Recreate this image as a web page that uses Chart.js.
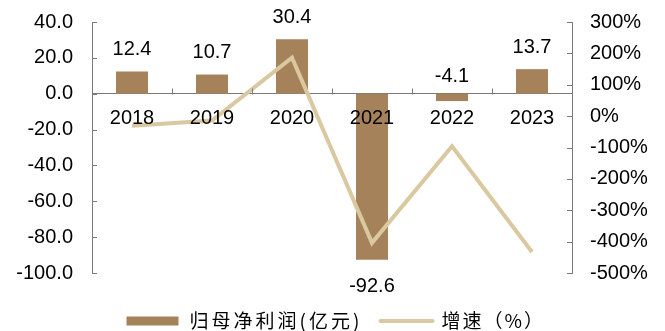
<!DOCTYPE html>
<html><head><meta charset="utf-8">
<script src="https://cdn.jsdelivr.net/npm/chart.js@4/dist/chart.umd.min.js"></script>
<style>html,body{margin:0;padding:0;background:#fff}#wrap{width:665px;height:331px}</style>
</head><body><div id="wrap"><canvas id="c" width="665" height="331"></canvas></div>
<script>
const categories = ['2018','2019','2020','2021','2022','2023'];
const profitValues = [12.4, 10.7, 30.4, -92.6, -4.1, 13.7];
const growthValues = [-31, -14, 186, -404, -96, -433];
const leftTicks = {min: -100, max: 40, step: 20};
const rightTicks = {min: -500, max: 300, step: 100};
const seriesNames = ['归母净利润(亿元)', '增速（%）'];

const BAR = '#a6825a';
const LINE = '#dac8a0';
const AXIS = '#7a7a7a';
const NUMFONT = '"Liberation Sans", Arial, sans-serif';
const NUMSIZE = 20;

const tickPlugin = {
  id: 'tickMarks',
  afterDraw(chart) {
    const ctx = chart.ctx;
    const y = chart.scales.y, y2 = chart.scales.y2, x = chart.scales.x;
    ctx.save();
    ctx.strokeStyle = AXIS; ctx.lineWidth = 1;
    ctx.beginPath();
    y.ticks.forEach(t => { const p = Math.round(y.getPixelForValue(t.value)) + 0.5; ctx.moveTo(y.right, p); ctx.lineTo(y.right + 5, p); });
    y2.ticks.forEach(t => { const p = Math.round(y2.getPixelForValue(t.value)) + 0.5; ctx.moveTo(y2.left, p); ctx.lineTo(y2.left - 5, p); });
    const y0 = Math.round(y.getPixelForValue(0)) + 0.5;
    for (let i = 0; i < categories.length - 1; i++) {
      const px = Math.round((x.getPixelForTick(i) + x.getPixelForTick(i + 1)) / 2) + 0.5;
      ctx.moveTo(px, y0); ctx.lineTo(px, y0 - 6);
    }
    ctx.stroke();
    ctx.restore();
  }
};

const labelPlugin = {
  id: 'barLabels',
  afterDatasetsDraw(chart) {
    const ctx = chart.ctx;
    const meta = chart.getDatasetMeta(1);
    ctx.save();
    ctx.font = NUMSIZE + 'px ' + NUMFONT;
    ctx.fillStyle = '#000';
    ctx.textAlign = 'center';
    ctx.textBaseline = 'middle';
    meta.data.forEach((bar, i) => {
      const v = profitValues[i];
      let ty;
      if (v >= 0) ty = bar.y - 22;
      else if (Math.abs(bar.y - bar.base) > 20) ty = bar.y + 27;
      else ty = bar.base - 17;
      ctx.fillText(v.toFixed(1), bar.x, ty);
    });
    ctx.restore();
  }
};

const legendPlugin = {
  id: 'customLegend',
  afterDraw(chart) {
    const ctx = chart.ctx;
    const cy = 321;
    const cx = chart.width / 2;
    ctx.save();
    ctx.font = '19px "Noto Sans CJK SC", sans-serif';
    ctx.textBaseline = 'middle';
    ctx.textAlign = 'left';
    ctx.fillStyle = BAR;
    ctx.fillRect(cx - 206, cy - 4.5, 52, 9);
    ctx.fillStyle = '#000';
    ctx.letterSpacing = '3px';
    ctx.fillText(seriesNames[0], cx - 143, cy);
    ctx.strokeStyle = LINE; ctx.lineWidth = 4; ctx.lineCap = 'round';
    ctx.beginPath(); ctx.moveTo(cx + 48, cy); ctx.lineTo(cx + 100, cy); ctx.stroke();
    ctx.letterSpacing = '2px';
    ctx.fillText(seriesNames[1], cx + 109, cy);
    ctx.restore();
  }
};

function noPad(s) { s.paddingTop = 0; s.paddingBottom = 0; }

new Chart(document.getElementById('c'), {
  data: {
    labels: categories,
    datasets: [
      { type: 'line', label: seriesNames[1], data: growthValues, yAxisID: 'y2', borderColor: LINE, backgroundColor: LINE, borderWidth: 4, pointRadius: 0, tension: 0, order: 0 },
      { type: 'bar', label: seriesNames[0], data: profitValues, yAxisID: 'y', backgroundColor: BAR, categoryPercentage: 1, barPercentage: 0.4, order: 1 }
    ]
  },
  options: {
    responsive: false,
    animation: false,
    devicePixelRatio: 1,
    layout: { padding: { left: 0, right: 0, top: 22, bottom: 58 } },
    plugins: { legend: { display: false }, tooltip: { enabled: false } },
    scales: {
      x: {
        position: { y: 0 },
        afterFit(s) { s.paddingLeft = 0; s.paddingRight = 0; },
        grid: { display: false, drawTicks: false, tickLength: 0 },
        border: { display: true, color: AXIS, width: 1 },
        ticks: { z: 1, color: '#000', font: { family: NUMFONT, size: NUMSIZE }, padding: 13, maxRotation: 0 }
      },
      y: {
        position: 'left',
        min: leftTicks.min, max: leftTicks.max,
        afterFit(s) { s.width = 92; noPad(s); },
        grid: { display: false, drawTicks: false, tickLength: 0 },
        border: { display: true, color: AXIS, width: 1 },
        ticks: { stepSize: leftTicks.step, color: '#000', font: { family: NUMFONT, size: NUMSIZE }, padding: 19, callback: v => Number(v).toFixed(1) }
      },
      y2: {
        position: 'right',
        min: rightTicks.min, max: rightTicks.max,
        afterFit(s) { s.width = 93; noPad(s); },
        grid: { display: false, drawTicks: false, tickLength: 0 },
        border: { display: true, color: AXIS, width: 1 },
        ticks: { stepSize: rightTicks.step, color: '#000', font: { family: NUMFONT, size: NUMSIZE }, padding: 18, callback: v => v + '%' }
      }
    }
  },
  plugins: [tickPlugin, labelPlugin, legendPlugin]
});
</script></body></html>
